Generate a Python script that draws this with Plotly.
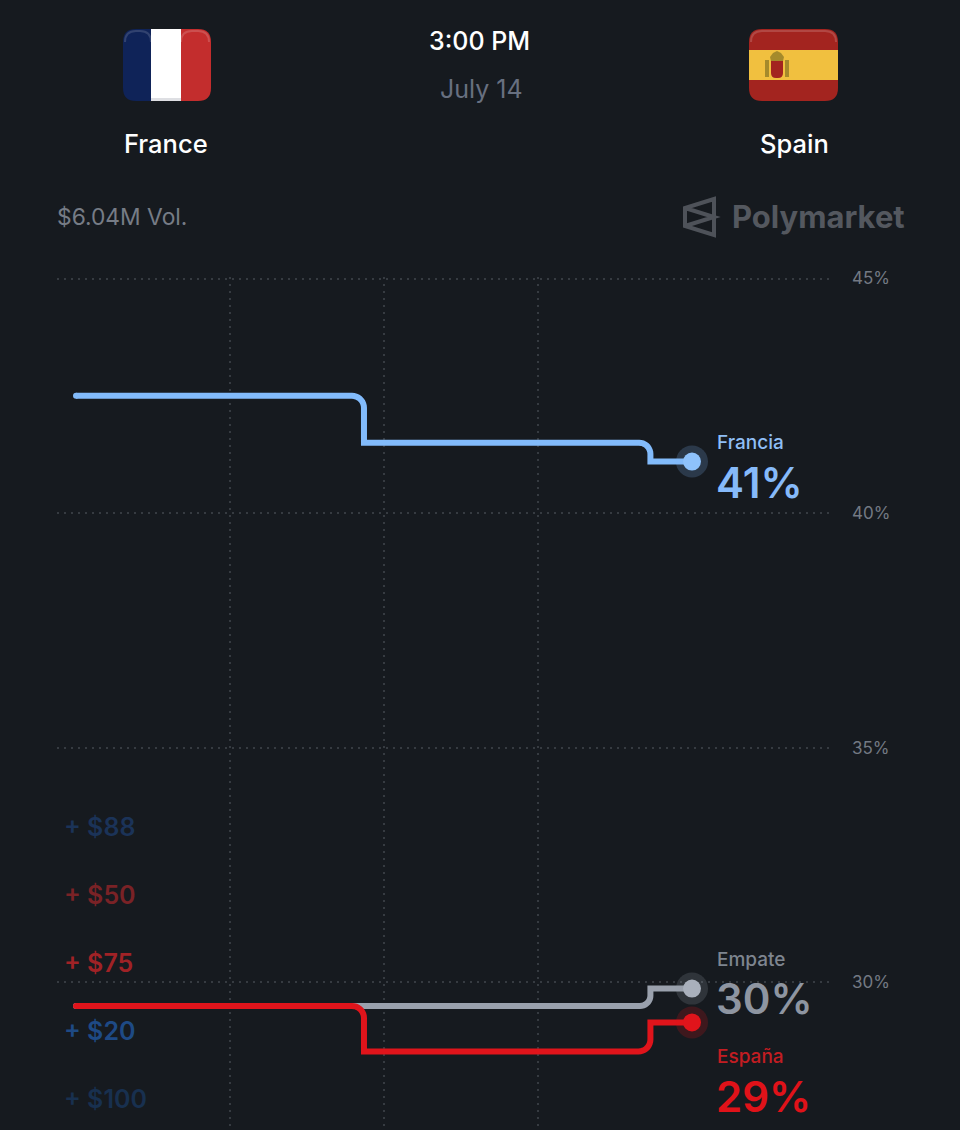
import numpy as np
import plotly.graph_objects as go

# Match odds over the last few hours before kick-off
step_times = [0, 1.87, 3.73, 4.0]
francia = [42.5, 41.5, 41.1]
empate = [29.5, 29.5, 29.87]
espana = [29.5, 28.53, 29.15]

y_ticks = [30, 35, 40, 45]
x_ticks = [1, 2, 3]
bet_labels = ["+ $88", "+ $50", "+ $75", "+ $20", "+ $100"]
bet_colors = ["#1B3358", "#7A2226", "#A02226", "#1E4A85", "#18304F"]
bet_rows = [827, 895, 963, 1031, 1099]

W, H = 960, 1130
ML, MR, MT, MB = 57, 130, 277, 0
PX_PER_X = 154.0
PX_PER_Y = 46.93
BG = "#161A1F"


def px(x):
    return (x - ML) / (W - ML - MR)


def py(y):
    return 1 - (y - MT) / (H - MT - MB)


def stepped(times, values, radius=12):
    """Step path, rounding the corner where each flat run turns vertical."""
    xs, ys = [times[0]], [values[0]]
    angles = np.linspace(0, np.pi / 2, 10)
    for i in range(1, len(values)):
        t, a, b = times[i], values[i - 1], values[i]
        if a != b:
            sign = 1 if b > a else -1
            r_px = min(radius, abs(b - a) * PX_PER_Y * 0.6)
            rx, ry = r_px / PX_PER_X, r_px / PX_PER_Y
            xs += list(t - rx + rx * np.sin(angles))
            ys += list(a + sign * ry * (1 - np.cos(angles)))
            xs.append(t)
            ys.append(b)
    xs.append(times[-1])
    ys.append(values[-1])
    return xs, ys


def rounded_band(x0, y0, x1, y1, r_left=0, r_right=0, top=True, bottom=True):
    """SVG path for a flag band; outer corners are rounded on request."""
    rtl = r_left if top else 0
    rbl = r_left if bottom else 0
    rtr = r_right if top else 0
    rbr = r_right if bottom else 0
    X, Y = px, py
    d = f"M {X(x0 + rtl)} {Y(y0)} L {X(x1 - rtr)} {Y(y0)} "
    d += f"Q {X(x1)} {Y(y0)} {X(x1)} {Y(y0 + rtr)} L {X(x1)} {Y(y1 - rbr)} "
    d += f"Q {X(x1)} {Y(y1)} {X(x1 - rbr)} {Y(y1)} L {X(x0 + rbl)} {Y(y1)} "
    d += f"Q {X(x0)} {Y(y1)} {X(x0)} {Y(y1 - rbl)} L {X(x0)} {Y(y0 + rtl)} "
    d += f"Q {X(x0)} {Y(y0)} {X(x0 + rtl)} {Y(y0)} Z"
    return d


def fill_path(d, color, opacity=1):
    return dict(type="path", xref="paper", yref="paper", path=d, fillcolor=color,
                opacity=opacity, line=dict(width=0), layer="above")


def poly(points):
    return "M " + " L ".join(f"{px(a)} {py(b)}" for a, b in points) + " Z"


def rim(x0, y, x1, r, color, opacity):
    """Glossy highlight following the top edge of a flag."""
    d = (f"M {px(x0)} {py(y + r)} Q {px(x0)} {py(y)} {px(x0 + r)} {py(y)} "
         f"L {px(x1 - r)} {py(y)} Q {px(x1)} {py(y)} {px(x1)} {py(y + r)}")
    return dict(type="path", xref="paper", yref="paper", path=d, opacity=opacity,
                line=dict(color=color, width=2), layer="above")


shapes = []

# France
shapes += [
    fill_path(rounded_band(123, 29, 151, 101, r_left=13), "#0F2358"),
    fill_path(rounded_band(151, 29, 181, 101), "#FFFFFF"),
    fill_path(rounded_band(181, 29, 211, 101, r_right=13), "#C32D2D"),
    rim(125, 31, 151, 11, "#FFFFFF", 0.14),
    rim(181, 31, 209, 11, "#FFFFFF", 0.16),
    fill_path(rounded_band(151, 98, 181, 101), "#DEDFE3"),
]

# Spain
shapes += [
    fill_path(rounded_band(749, 29, 838, 50, r_left=13, r_right=13, bottom=False), "#A3241F"),
    fill_path(rounded_band(749, 50, 838, 80), "#F1C03F"),
    fill_path(rounded_band(749, 80, 838, 101, r_left=13, r_right=13, top=False), "#A3241F"),
    rim(751, 31, 836, 11, "#FFFFFF", 0.16),
    fill_path(poly([(771, 61), (770, 57), (773, 53), (777, 51), (781, 53), (784, 57), (783, 61)]), "#A58A2B"),
    fill_path(rounded_band(771, 61, 783, 78, r_left=5, r_right=5, top=False), "#A3241F"),
    fill_path(rounded_band(765, 60, 769, 77), "#A58A2B"),
    fill_path(rounded_band(785, 60, 789, 77), "#A58A2B"),
]

# Polymarket mark
logo = [(714, 199), (685, 208), (685, 226), (714, 235)]
logo_d = poly(logo) + f" M {px(685)} {py(208)} L {px(714)} {py(217)} L {px(685)} {py(226)}"
shapes.append(dict(type="path", xref="paper", yref="paper", path=logo_d,
                   line=dict(color="#4E5259", width=4), layer="above"))

fig = go.Figure()

series = [
    ("Empate", empate, "#9AA1AD", "#A9B0BC", "rgba(150,158,172,0.2)"),
    ("Francia", francia, "#82BBFB", "#8EC2FC", "rgba(130,187,251,0.2)"),
    ("España", espana, "#E0141B", "#E0141B", "rgba(224,20,27,0.2)"),
]
for name, values, color, core, halo in series:
    xs, ys = stepped(step_times, values)
    fig.add_trace(go.Scatter(x=xs, y=ys, mode="lines", name=name,
                             line=dict(color=color, width=6, simplify=False), hoverinfo="skip"))
    # Round cap at the start of the line
    fig.add_trace(go.Scatter(x=step_times[:1], y=values[:1], mode="markers",
                             marker=dict(color=color, size=6), hoverinfo="skip"))
    # Current-price dot with its halo
    fig.add_trace(go.Scatter(x=step_times[-1:], y=values[-1:], mode="markers",
                             marker=dict(color=halo, size=32), hoverinfo="skip"))
    fig.add_trace(go.Scatter(x=step_times[-1:], y=values[-1:], mode="markers",
                             marker=dict(color=core, size=18), hoverinfo="skip"))


def label(text, x, y, size, color, anchor="left", weight=400, family="Inter"):
    fig.add_annotation(text=text, xref="paper", yref="paper", x=px(x), y=py(y),
                       xanchor=anchor, yanchor="middle", showarrow=False,
                       font=dict(size=size, color=color, family=family, weight=weight))


# Match header
label("3:00 PM", 480, 41, 25, "#FFFFFF", "center", 500)
label("July 14", 481, 89, 25, "#687080", "center", 400)
label("France", 166, 143, 25.5, "#FFFFFF", "center", 500)
label("Spain", 794, 143, 25.5, "#FFFFFF", "center", 500)
label("$6.04M Vol.", 55, 217, 22.8, "#767C86")
label("Polymarket", 730, 217, 31, "#54585F", weight=700)

# Direct labels at the end of each line
label("Francia", 715, 442, 19, "#8FBEF5", weight=500)
label(f"{round(francia[-1])}%", 714, 482, 42, "#86BAFA", weight=600)
label("Empate", 715, 959, 19, "#7E858F", weight=500)
label(f"{round(empate[-1])}%", 714, 998, 42, "#8E95A1", weight=600)
label("España", 715, 1056, 19, "#C21D22", weight=500)
label(f"{round(espana[-1])}%", 714, 1096, 42, "#E01219", weight=600)

# Recent bets floating up the left edge
for text, color, row in zip(bet_labels, bet_colors, bet_rows):
    label(text, 62, row, 25, color, weight=600)

x_left = (ML - 76) / PX_PER_X
x_right = (W - MR - 76) / PX_PER_X
y_top = 45 + (278.5 - MT) / PX_PER_Y
y_bottom = 30 - (H - MB - 982.5) / PX_PER_Y

fig.update_layout(
    width=W, height=H, margin=dict(l=ML, r=MR, t=MT, b=MB, pad=0),
    paper_bgcolor=BG, plot_bgcolor=BG, showlegend=False, shapes=shapes,
    font=dict(family="Inter"),
    xaxis=dict(range=[x_left, x_right], tickvals=x_ticks, showticklabels=False,
               showgrid=True, gridcolor="#363B41", griddash="1.5px,5.5px", gridwidth=1.5,
               zeroline=False, showline=False, ticks=""),
    yaxis=dict(range=[y_bottom, y_top], tickmode="array", tickvals=y_ticks,
               ticktext=[f"{v}%" for v in y_ticks], side="right",
               showgrid=True, gridcolor="#363B41", griddash="1.5px,5.5px", gridwidth=1.5,
               zeroline=False, showline=False, ticks="", ticklabelstandoff=21,
               tickfont=dict(size=17, color="#737983", family="Inter")),
)

fig.write_html("out.html", config=dict(displayModeBar=False))
